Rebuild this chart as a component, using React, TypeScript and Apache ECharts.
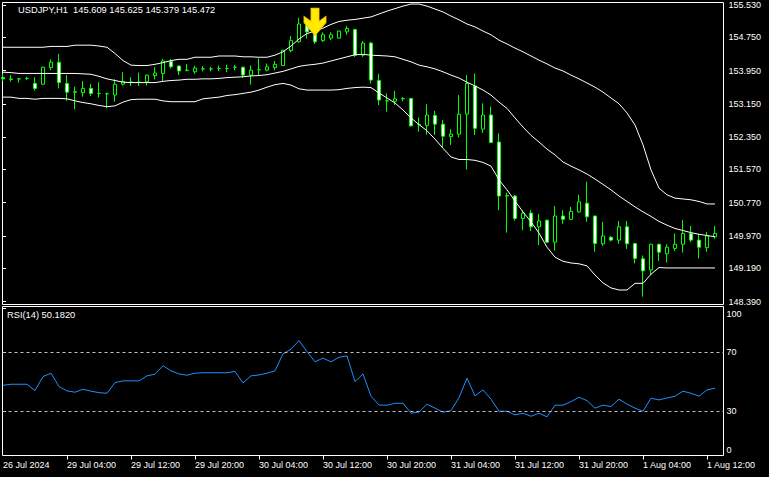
import React, { useEffect, useRef } from "react";
import * as echarts from "echarts";

const symbolTitle = "USDJPY,H1  145.609 145.625 145.379 145.472";
const rsiTitle = "RSI(14) 50.1820";

const timeTickIdx = [0, 8, 16, 24, 32, 40, 48, 56, 64, 72, 80, 88];
const timeTickLabels = [
  "26 Jul 2024", "29 Jul 04:00", "29 Jul 12:00", "29 Jul 20:00", "30 Jul 04:00", "30 Jul 12:00",
  "30 Jul 20:00", "31 Jul 04:00", "31 Jul 12:00", "31 Jul 20:00", "1 Aug 04:00", "1 Aug 12:00",
];
const priceTicks = [148.39, 149.19, 149.97, 150.77, 151.57, 152.35, 153.15, 153.95, 154.75, 155.53];
const rsiTicks = [0, 30, 70, 100];
const rsiLevels = [30, 70];

const open = [
  153.78, 153.745, 153.75, 153.76, 153.64, 153.62, 154.02, 154.15, 153.64, 153.44,
  153.42, 153.52, 153.40, 153.39, 153.36, 153.62, 153.67, 153.67, 153.68, 153.83,
  153.88, 154.17, 154.06, 153.95, 153.92, 153.99, 153.99, 154.00, 154.00, 154.03,
  154.03, 153.84, 153.97, 153.96, 154.02, 154.07, 154.43, 154.64, 155.04, 154.89,
  154.67, 154.73, 154.73, 154.88, 154.94, 154.32, 154.61, 153.71, 153.22, 153.21,
  153.27, 153.28, 152.65, 152.63, 152.87, 152.66, 152.36, 152.42, 152.90, 153.58,
  152.54, 152.88, 152.23, 150.94, 150.93, 150.39, 150.52, 150.19, 150.35, 149.82,
  150.45, 150.37, 150.55, 150.76, 150.45, 149.78, 149.94, 149.87, 150.19, 149.79,
  149.42, 149.15, 149.77, 149.54, 149.67, 149.77, 150.03, 149.87, 149.69, 149.95,
];
const close = [
  153.75, 153.74, 153.75, 153.76, 153.52, 154.03, 154.15, 153.66, 153.43, 153.43,
  153.52, 153.40, 153.40, 153.39, 153.62, 153.69, 153.67, 153.67, 153.84, 153.89,
  154.18, 154.04, 153.94, 153.96, 154.01, 153.99, 153.99, 154.00, 154.00, 154.03,
  153.84, 153.96, 153.97, 154.04, 154.10, 154.44, 154.67, 155.07, 154.88, 154.64,
  154.81, 154.81, 154.90, 154.96, 154.32, 154.61, 153.72, 153.24, 153.22, 153.27,
  153.28, 152.62, 152.65, 152.88, 152.66, 152.37, 152.42, 152.90, 153.64, 152.56,
  152.88, 152.22, 150.93, 150.93, 150.39, 150.52, 150.19, 150.33, 149.82, 150.45,
  150.37, 150.56, 150.79, 150.43, 149.79, 149.97, 149.87, 150.19, 149.78, 149.43,
  149.13, 149.77, 149.58, 149.70, 149.77, 150.03, 149.87, 149.70, 149.97, 150.03,
];
const low = [
  153.70, 153.68, 153.66, 153.72, 153.47, 153.61, 153.96, 153.52, 153.22, 153.02,
  153.32, 153.34, 153.30, 153.04, 153.20, 153.59, 153.58, 153.58, 153.59, 153.74,
  153.70, 154.00, 153.84, 153.93, 153.87, 153.93, 153.93, 153.94, 153.91, 153.96,
  153.77, 153.61, 153.83, 153.93, 153.96, 154.06, 154.39, 154.62, 154.72, 154.59,
  154.64, 154.68, 154.72, 154.81, 154.28, 154.28, 153.64, 153.12, 152.96, 153.12,
  153.21, 152.60, 152.48, 152.41, 152.40, 152.10, 152.16, 152.34, 151.57, 152.40,
  152.45, 152.20, 150.59, 150.05, 150.34, 150.11, 150.09, 149.75, 149.81, 149.62,
  150.26, 150.35, 150.53, 150.31, 149.59, 149.73, 149.84, 149.78, 149.66, 149.31,
  148.51, 149.03, 149.37, 149.33, 149.61, 149.57, 149.82, 149.43, 149.59, 149.90,
];
const high = [
  153.87, 153.84, 153.76, 153.80, 153.79, 154.04, 154.22, 154.35, 153.84, 153.56,
  153.70, 153.63, 153.67, 153.42, 153.74, 153.91, 153.79, 153.90, 153.85, 154.03,
  154.23, 154.23, 154.06, 154.11, 154.06, 154.06, 154.04, 154.07, 154.09, 154.08,
  154.04, 154.07, 154.24, 154.12, 154.18, 154.45, 154.78, 155.22, 155.10, 154.93,
  154.87, 154.87, 154.91, 155.02, 154.95, 154.66, 154.64, 153.87, 153.40, 153.46,
  153.31, 153.29, 152.82, 153.14, 152.98, 152.76, 152.54, 153.36, 153.84, 153.88,
  153.16, 153.08, 152.44, 151.01, 150.96, 150.59, 150.59, 150.50, 150.36, 150.69,
  150.59, 150.67, 150.96, 151.28, 150.46, 150.31, 149.97, 150.33, 150.33, 149.80,
  149.50, 149.78, 149.78, 149.77, 150.03, 150.35, 150.21, 150.02, 150.07, 150.21,
];

const bbUpper = [
  154.51, 154.51, 154.51, 154.51, 154.51, 154.51, 154.53, 154.53, 154.53, 154.56,
  154.56, 154.56, 154.54, 154.51, 154.36, 154.19, 154.08, 154.07, 154.07, 154.10,
  154.14, 154.19, 154.22, 154.22, 154.27, 154.27, 154.27, 154.30, 154.30, 154.30,
  154.28, 154.28, 154.27, 154.27, 154.32, 154.40, 154.54, 154.71, 154.84, 154.90,
  154.97, 155.06, 155.13, 155.16, 155.18, 155.21, 155.24, 155.31, 155.38, 155.44,
  155.50, 155.55, 155.55, 155.50, 155.43, 155.36, 155.26, 155.17, 155.07, 155.00,
  154.90, 154.81, 154.68, 154.59, 154.49, 154.40, 154.30, 154.20, 154.11, 154.01,
  153.94, 153.84, 153.75, 153.65, 153.55, 153.43, 153.29, 153.15, 152.93, 152.64,
  152.16, 151.56, 151.12, 150.96, 150.88, 150.86, 150.84, 150.80, 150.74, 150.74,
];
const bbMiddle = [
  153.91, 153.90, 153.88, 153.88, 153.88, 153.88, 153.88, 153.88, 153.88, 153.88,
  153.87, 153.86, 153.81, 153.75, 153.71, 153.67, 153.66, 153.66, 153.66, 153.66,
  153.69, 153.71, 153.72, 153.74, 153.74, 153.75, 153.75, 153.76, 153.78, 153.79,
  153.80, 153.82, 153.83, 153.85, 153.89, 153.93, 153.99, 154.05, 154.08, 154.10,
  154.13, 154.18, 154.23, 154.28, 154.33, 154.34, 154.32, 154.31, 154.30, 154.28,
  154.22, 154.16, 154.08, 154.04, 153.99, 153.92, 153.84, 153.77, 153.67, 153.58,
  153.48, 153.36, 153.19, 153.04, 152.81, 152.59, 152.39, 152.23, 152.06, 151.92,
  151.75, 151.65, 151.56, 151.46, 151.34, 151.21, 151.08, 150.93, 150.80, 150.67,
  150.55, 150.44, 150.32, 150.23, 150.15, 150.10, 150.05, 150.01, 149.98, 149.95,
];
const bbLower = [
  153.31, 153.31, 153.28, 153.28, 153.26, 153.28, 153.28, 153.28, 153.27, 153.22,
  153.18, 153.15, 153.11, 153.08, 153.10, 153.19, 153.25, 153.26, 153.26, 153.26,
  153.22, 153.20, 153.20, 153.20, 153.20, 153.27, 153.29, 153.31, 153.35, 153.37,
  153.40, 153.43, 153.48, 153.55, 153.61, 153.64, 153.60, 153.51, 153.48, 153.48,
  153.48, 153.48, 153.49, 153.52, 153.54, 153.55, 153.54, 153.41, 153.29, 153.17,
  153.00, 152.81, 152.65, 152.50, 152.30, 152.08, 151.87, 151.81, 151.81, 151.79,
  151.74, 151.65, 151.32, 151.08, 150.81, 150.55, 150.31, 150.04, 149.70, 149.46,
  149.36, 149.32, 149.30, 149.25, 149.03, 148.84, 148.72, 148.67, 148.67, 148.83,
  148.83, 149.05, 149.21, 149.20, 149.20, 149.20, 149.20, 149.20, 149.20, 149.20,
];
const rsi = [
  47.6, 48.3, 48.3, 48.3, 44.0, 53.5, 55.8, 46.7, 43.8, 42.9,
  44.9, 43.6, 42.6, 42.2, 49.4, 50.6, 50.6, 50.6, 54.0, 55.1,
  60.9, 57.4, 55.3, 54.4, 55.8, 56.1, 56.1, 56.1, 56.1, 57.0,
  49.2, 54.0, 54.6, 55.8, 57.4, 68.9, 72.1, 77.9, 70.4, 63.5,
  66.0, 63.5, 66.6, 67.5, 50.1, 55.3, 40.2, 34.2, 34.1, 35.4,
  35.4, 28.7, 29.4, 34.8, 32.1, 29.4, 30.4, 39.3, 52.4, 40.4,
  44.5, 38.2, 30.0, 30.0, 27.5, 28.7, 26.6, 28.7, 26.2, 34.1,
  34.1, 36.5, 39.5, 37.2, 32.1, 34.1, 33.2, 38.2, 34.8, 32.1,
  30.0, 38.8, 37.7, 39.0, 40.2, 43.6, 42.2, 40.2, 44.5, 45.6,
];

const signalBar = 39;
const signalPrice = 155.12;

const FONT = "'Liberation Sans', Arial, sans-serif";
const WHITE = "#ffffff";

export default function App() {
  const ref = useRef<HTMLDivElement>(null);
  useEffect(() => {
    if (!ref.current) return;
    const chart = echarts.init(ref.current, undefined, { renderer: "svg" });
    const xMin = -0.0625;
    const xMax = 90.0625;
    const pts = (arr: number[]) => arr.map((v, i) => [i, v]);
    const labelFor = (v: number) => {
      const k = timeTickIdx.indexOf(Math.round(v));
      return k >= 0 ? timeTickLabels[k] : "";
    };
    const option: any = {
      animation: false,
      backgroundColor: "#000000",
      textStyle: { fontFamily: FONT },
      grid: [
        { left: 2.5, top: 2.5, width: 721, height: 302, show: true, borderColor: WHITE, borderWidth: 1, backgroundColor: "#000" },
        { left: 2.5, top: 306.5, width: 721, height: 149, show: true, borderColor: WHITE, borderWidth: 1, backgroundColor: "#000" },
      ],
      xAxis: [
        { type: "value", gridIndex: 0, min: xMin, max: xMax, show: false },
        {
          type: "value", gridIndex: 1, min: xMin, max: xMax,
          splitLine: { show: false },
          axisLine: { show: false },
          axisTick: { show: true, customValues: timeTickIdx.slice(1), length: 4, lineStyle: { color: WHITE } },
          axisLabel: {
            customValues: timeTickIdx, formatter: labelFor, color: WHITE,
            fontFamily: FONT, fontSize: 9, align: "left", margin: 5,
          },
        },
      ],
      yAxis: [
        {
          type: "value", gridIndex: 0, position: "right", min: 148.321, max: 155.587,
          splitLine: { show: false },
          axisLine: { show: false },
          axisTick: { show: true, customValues: priceTicks, length: 3, lineStyle: { color: WHITE } },
          axisLabel: {
            customValues: priceTicks, formatter: (v: number) => v.toFixed(3),
            color: WHITE, fontFamily: FONT, fontSize: 9, margin: 5,
          },
        },
        {
          type: "value", gridIndex: 1, position: "right", min: 0, max: 101,
          splitLine: { show: false },
          axisLine: { show: false },
          axisTick: { show: true, customValues: rsiTicks, length: 3, lineStyle: { color: WHITE } },
          axisLabel: {
            customValues: rsiTicks,
            formatter: (v: number) => (v === 100 ? "{top|100}" : v === 0 ? "{bot|0}" : String(v)),
            color: WHITE, fontFamily: FONT, fontSize: 9, margin: 3,
            rich: {
              top: { color: WHITE, fontFamily: FONT, fontSize: 9, padding: [12, 0, 0, 0] },
              bot: { color: WHITE, fontFamily: FONT, fontSize: 9, padding: [0, 0, 12, 0] },
            },
          },
        },
      ],
      graphic: [
        { type: "text", left: 18, top: 5, style: { text: symbolTitle, fill: WHITE, fontFamily: FONT, fontSize: 9.3 } },
        { type: "text", left: 7, top: 310.5, style: { text: rsiTitle, fill: WHITE, fontFamily: FONT, fontSize: 9.3 } },
      ],
      series: [
        {
          type: "candlestick", xAxisIndex: 0, yAxisIndex: 0,
          data: open.map((o, i) => [i, o, close[i], low[i], high[i]]),
          encode: { x: 0, y: [1, 2, 3, 4] },
          barWidth: 4,
          clip: false,
          itemStyle: {
            color: "#000000", color0: "#ffffff",
            borderColor: "#00ff00", borderColor0: "#00ff00", borderColorDoji: "#00ff00",
            borderWidth: 1,
          },
          z: 2,
        },
        ...[bbUpper, bbMiddle, bbLower].map((arr) => ({
          type: "line", xAxisIndex: 0, yAxisIndex: 0, data: pts(arr),
          showSymbol: false, symbol: "none", silent: true,
          lineStyle: { color: WHITE, width: 1 }, z: 3,
        })),
        {
          type: "scatter", xAxisIndex: 0, yAxisIndex: 0,
          data: [[signalBar, signalPrice]],
          symbol: "path://M7 0 L15 0 L15 13 L22 8 L22 14 L11 27 L0 14 L0 8 L7 13 Z",
          symbolSize: [22, 27],
          itemStyle: { color: "#ffea00", borderColor: "#f0c800", borderWidth: 1, opacity: 1 },
          z: 5,
        },
        {
          type: "line", xAxisIndex: 1, yAxisIndex: 1, data: pts(rsi),
          showSymbol: false, symbol: "none",
          lineStyle: { color: "#1e90ff", width: 1 },
          markLine: {
            silent: true, symbol: ["none", "none"], label: { show: false },
            lineStyle: { color: "#c0c0c0", type: [3, 3], width: 1 },
            data: rsiLevels.map((v) => ({ yAxis: v })),
          },
          z: 3,
        },
      ],
    };
    chart.setOption(option);
    return () => chart.dispose();
  }, []);
  return (
    <div
      ref={ref}
      style={{ position: "fixed", left: 0, top: 0, width: 769, height: 477, background: "#000" }}
    />
  );
}
